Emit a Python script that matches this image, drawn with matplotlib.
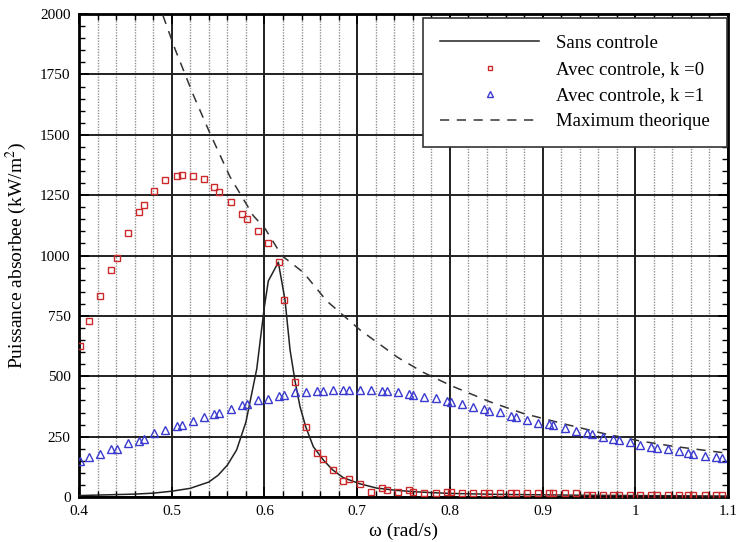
import matplotlib
matplotlib.use("Agg")
import matplotlib.pyplot as plt
from matplotlib.ticker import MultipleLocator, FixedLocator

plt.rcParams['font.family'] = ['Liberation Serif', 'DejaVu Serif']
plt.rcParams['mathtext.fontset'] = 'stix'

# ---- data ----
omega_pts = [0.4011, 0.4111, 0.4230, 0.4342, 0.4407, 0.4525, 0.4644, 0.4705, 0.4812, 0.4931,
             0.5054, 0.5111, 0.5230, 0.5348, 0.5453, 0.5514, 0.5636, 0.5755, 0.5809, 0.5930,
             0.6039, 0.6157, 0.6215, 0.6330, 0.6445, 0.6564, 0.6629, 0.6737, 0.6851, 0.6910,
             0.7028, 0.7153, 0.7265, 0.7323, 0.7438, 0.7563, 0.7606, 0.7725, 0.7848, 0.7967,
             0.8013, 0.8128, 0.8254, 0.8372, 0.8423, 0.8542, 0.8657, 0.8714, 0.8830, 0.8955,
             0.9073, 0.9117, 0.9243, 0.9361, 0.9477, 0.9531, 0.9649, 0.9764, 0.9829, 0.9944,
             1.0052, 1.0170, 1.0232, 1.0351, 1.0469, 1.0573, 1.0627, 1.0753, 1.0872, 1.0933]

p_k0 = [627, 727, 834, 939, 990, 1092, 1179, 1210, 1268, 1311,
        1330, 1335, 1330, 1315, 1284, 1264, 1223, 1173, 1151, 1101,
        1050, 972, 816, 477, 292, 181, 156, 112, 66, 76,
        55, 20, 36, 27, 22, 29, 22, 18, 18, 22,
        22, 18, 15, 15, 15, 18, 18, 16, 16, 16,
        17, 17, 15, 16, 9, 8, 8, 8, 8, 8,
        8, 8, 8, 8, 8, 8, 8, 8, 8, 8]

p_k1 = [149, 164, 179, 197, 200, 222, 234, 240, 264, 277,
        295, 298, 316, 330, 345, 350, 366, 381, 385, 400,
        406, 418, 422, 433, 436, 440, 440, 444, 444, 444,
        444, 444, 440, 440, 433, 425, 422, 413, 409, 399,
        395, 385, 371, 363, 357, 351, 337, 333, 318, 308,
        304, 298, 286, 272, 265, 260, 248, 239, 236, 228,
        217, 207, 202, 197, 189, 183, 178, 171, 164, 161]

omega_sans = [0.40, 0.42, 0.44, 0.46, 0.48, 0.50, 0.52, 0.54, 0.55, 0.56,
              0.57, 0.58, 0.5917, 0.60, 0.6042, 0.615, 0.6222, 0.6276, 0.633, 0.6384,
              0.6445, 0.6528, 0.6636, 0.6737, 0.6851, 0.7028, 0.721, 0.7438, 0.77, 0.80,
              0.85, 0.90, 0.95, 1.00, 1.05, 1.10]
p_sans = [6, 8, 10, 12, 16, 24, 36, 62, 90, 132,
          195, 310, 530, 790, 895, 972, 816, 610, 480, 374,
          291, 208, 153, 112, 80, 55, 37, 27, 20, 15,
          11, 9, 7, 6, 5, 4]

omega_max = [0.485, 0.490, 0.5036, 0.5233, 0.5413, 0.5629, 0.588, 0.6006, 0.6187, 0.642,
             0.6672, 0.7031, 0.7438, 0.7714, 0.802, 0.8434, 0.8793, 0.9261, 0.9692, 1.0052,
             1.0411, 1.10]
p_max = [2080, 2000, 1855, 1665, 1506, 1326, 1165, 1112, 1000, 930,
         812, 692, 578, 516, 460, 394, 346, 300, 260, 232,
         210, 181]

x_ticks = [0.4, 0.5, 0.6, 0.7, 0.8, 0.9, 1.0, 1.1]
x_ticklabels = ['0.4', '0.5', '0.6', '0.7', '0.8', '0.9', '1', '1.1']
y_ticks = [0, 250, 500, 750, 1000, 1250, 1500, 1750, 2000]

# ---- figure ----
fig = plt.figure(figsize=(7.41, 5.42), dpi=100)
ax = fig.add_axes([0.1066, 0.083, 0.8759, 0.891])

ax.set_xlim(0.4, 1.1)
ax.set_ylim(0, 2000)

# grid
ax.xaxis.set_major_locator(FixedLocator(x_ticks))
ax.set_xticklabels(x_ticklabels)
ax.xaxis.set_minor_locator(MultipleLocator(0.02))
ax.yaxis.set_major_locator(FixedLocator(y_ticks))
ax.yaxis.set_minor_locator(MultipleLocator(50))
ax.grid(which='major', color='#202020', linestyle='-', linewidth=1.4)
ax.grid(which='minor', axis='x', color='#909090', linestyle=(0, (1, 1)), linewidth=1.0)
ax.set_axisbelow(True)

ax.plot(omega_sans, p_sans, color='#222222', linewidth=1.1, label='Sans controle', zorder=3)
ax.plot(omega_pts, p_k0, linestyle='none', marker='s', markersize=4.6,
        markerfacecolor='none', markeredgecolor='#cc2a2a', markeredgewidth=1.0,
        label='Avec controle, k =0', zorder=4)
ax.plot(omega_pts, p_k1, linestyle='none', marker='^', markersize=5.2,
        markerfacecolor='none', markeredgecolor='#3a3ad0', markeredgewidth=1.0,
        label='Avec controle, k =1', zorder=4)
ax.plot(omega_max, p_max, color='#333333', linewidth=1.1, linestyle=(0, (6, 5)),
        label='Maximum theorique', zorder=3)

for s in ax.spines.values():
    s.set_linewidth(2.0)
    s.set_color('black')

ax.tick_params(which='both', direction='in', top=True, right=True, colors='black')
ax.tick_params(which='major', length=7, width=1.2, labelsize=11, pad=6)
ax.tick_params(which='minor', length=4, width=1.0)

ax.set_xlabel('ω (rad/s)', fontsize=14, labelpad=3)
ax.set_ylabel('Puissance absorbee (kW/m$^2$)', fontsize=14, labelpad=8)

leg = ax.legend(loc='upper right', bbox_to_anchor=(0.998, 0.992), borderaxespad=0,
                fontsize=13.5, handlelength=5.3, markerscale=0.7, frameon=True,
                fancybox=False, framealpha=1, edgecolor='#333333',
                labelspacing=0.48, borderpad=0.9, handletextpad=0.9)
leg.get_frame().set_linewidth(1.2)

fig.savefig('out.png', dpi=100)
